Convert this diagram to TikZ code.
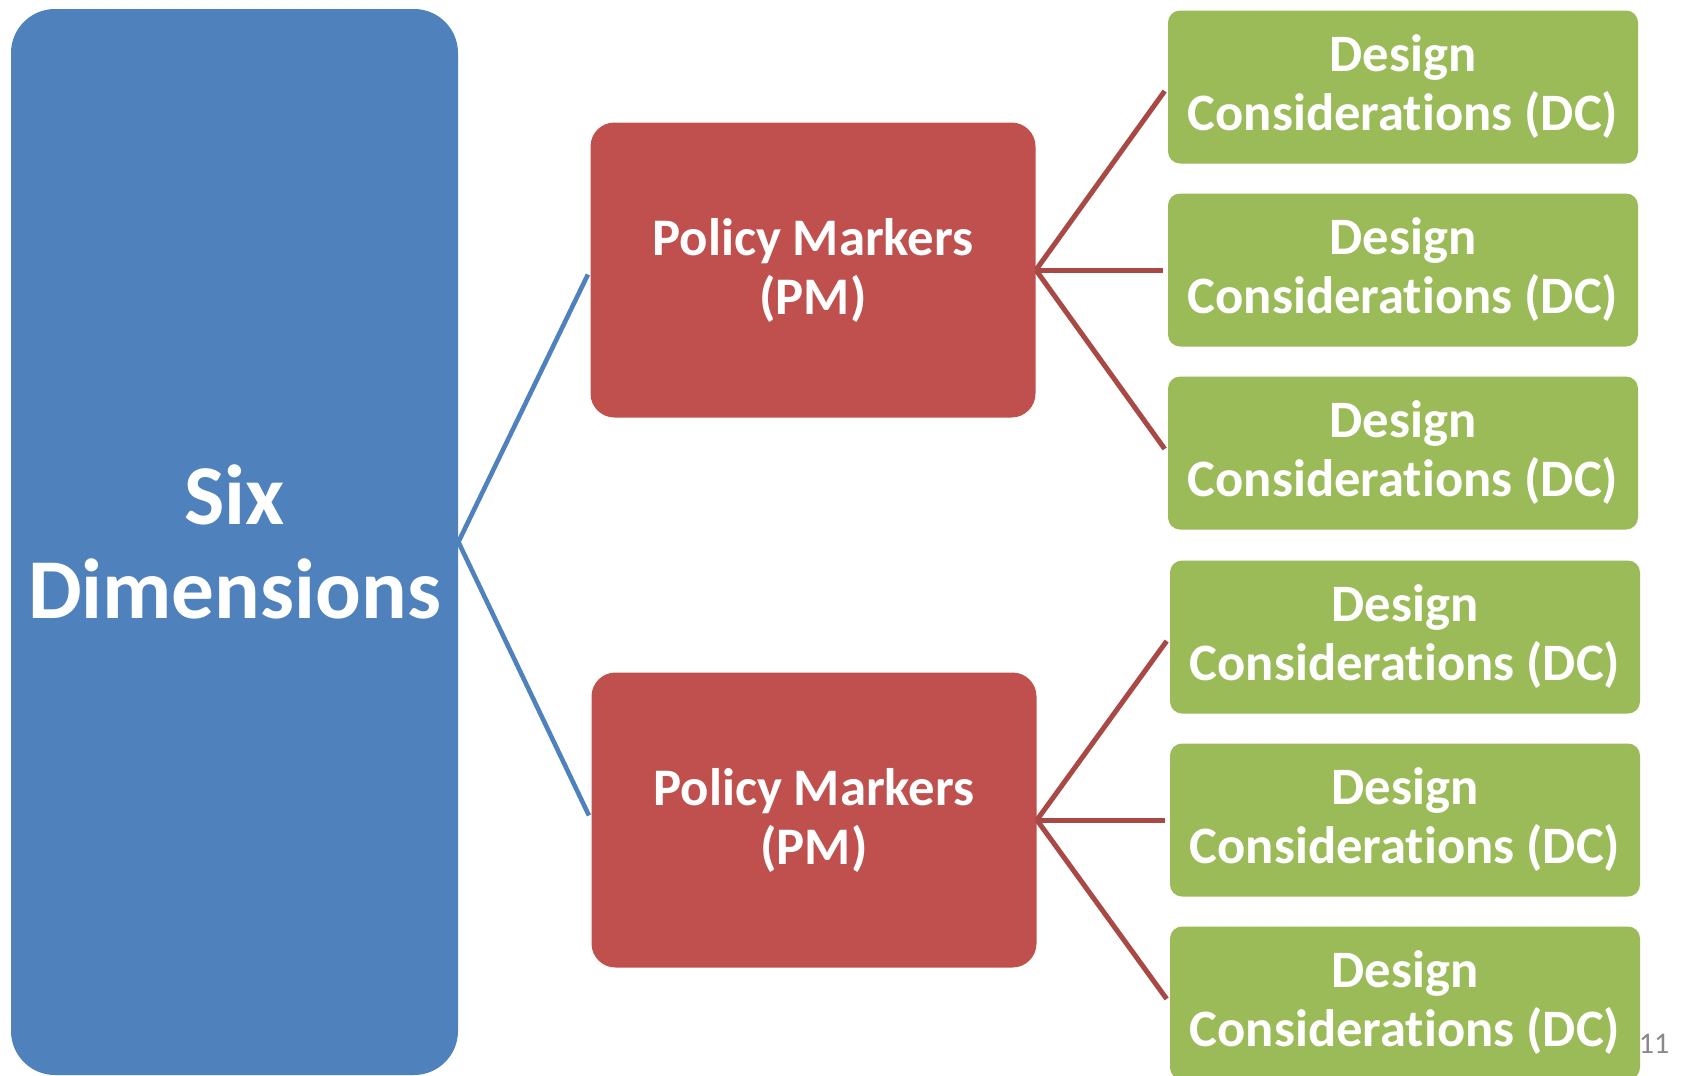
\documentclass[tikz,border=0pt]{standalone}
\usepackage{fontspec}
\setmainfont[Ligatures=NoCommon]{Carlito}
\definecolor{dimblue}{RGB}{79,129,189}
\definecolor{pmred}{RGB}{192,80,77}
\definecolor{dcgreen}{RGB}{155,187,89}
\definecolor{pmline}{RGB}{169,73,70}
\definecolor{pagegray}{RGB}{137,137,137}

\begin{document}
\begin{tikzpicture}[x=0.5pt,y=-0.5pt,
    dimbox/.style={fill=dimblue, text=white, rounded corners=22pt, inner sep=0pt,
        minimum width=223.5pt, minimum height=533pt, align=center,
        font=\bfseries\fontsize{42.6}{47}\selectfont},
    pmbox/.style={fill=pmred, text=white, rounded corners=12pt, inner sep=0pt,
        minimum width=222.5pt, minimum height=147.5pt, align=center,
        font=\bfseries\fontsize{26.4}{29.5}\selectfont},
    dcbox/.style={fill=dcgreen, text=white, rounded corners=6pt, inner sep=0pt,
        minimum width=235pt, minimum height=76.5pt, align=center,
        font=\bfseries\fontsize{26.3}{29.5}\selectfont},
    dimlink/.style={draw=dimblue, line width=2.3pt, shorten >=2.5pt},
    pmlink/.style={draw=pmline, line width=2.5pt, shorten >=2.5pt}]
        \useasboundingbox (0,0) rectangle (1682,1076);
        \fill[white] (0,0) rectangle (1682,1076);
        % left column
        \node[dimbox] (dims) at (234.5,542) {Six\\Dimensions};
        % policy markers
        \node[pmbox] (pmtop) at (813,270) {Policy Markers\\(PM)};
        \node[pmbox] (pmbot) at (814,820) {Policy Markers\\(PM)};
        % design considerations
        \node[dcbox] (dc1) at (1403,87) {Design\\Considerations (DC)};
        \node[dcbox] (dc2) at (1403,270) {Design\\Considerations (DC)};
        \node[dcbox] (dc3) at (1403,453) {Design\\Considerations (DC)};
        \node[dcbox] (dc4) at (1405,637) {Design\\Considerations (DC)};
        \node[dcbox] (dc5) at (1405,820) {Design\\Considerations (DC)};
        \node[dcbox] (dc6) at (1405,1003) {Design\\Considerations (DC)};
        % links
        \draw[dimlink] (dims.east) -- (pmtop.west);
        \draw[dimlink] (dims.east) -- (pmbot.west);
        \draw[pmlink] (pmtop.east) -- (dc1.west);
        \draw[pmlink] (pmtop.east) -- (dc2.west);
        \draw[pmlink] (pmtop.east) -- (dc3.west);
        \draw[pmlink] (pmbot.east) -- (dc4.west);
        \draw[pmlink] (pmbot.east) -- (dc5.west);
        \draw[pmlink] (pmbot.east) -- (dc6.west);
        % slide number
        \node[text=pagegray, font=\fontsize{15}{17}\selectfont] (pagenum) at (1654,1044) {11};
\end{tikzpicture}
\end{document}
